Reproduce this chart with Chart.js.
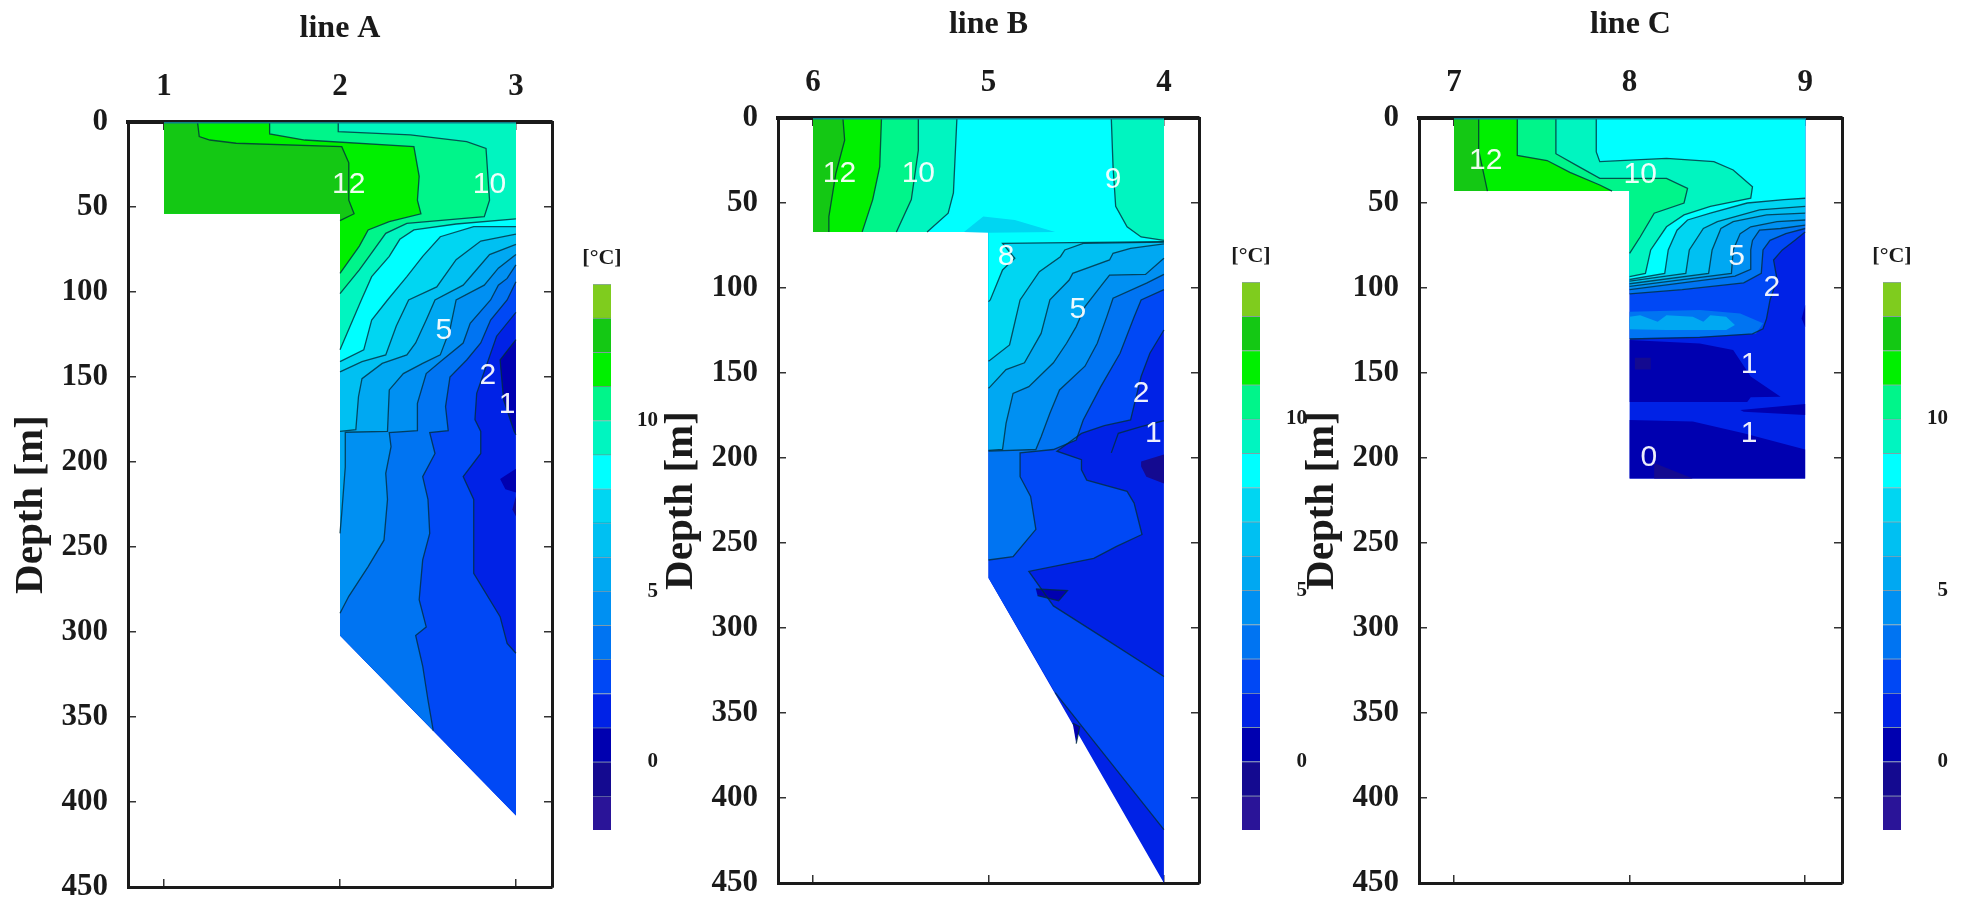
<!DOCTYPE html>
<html>
<head>
<meta charset="utf-8">
<title>Temperature sections</title>
<script src="https://cdn.jsdelivr.net/npm/chart.js@4"></script>
<style>
html, body { margin: 0; background: #fff; overflow: hidden; }
canvas { position: absolute; filter: blur(0.6px); }
</style>
</head>
<body>
<script>
// Tick labels
const stationsA = [1, 2, 3];
const stationsB = [6, 5, 4];
const stationsC = [7, 8, 9];
const depthTicks = [0, 50, 100, 150, 200, 250, 300, 350, 400, 450];
const colorTicks = [0, 5, 10];

// Colour scale: one colour for each 1 degree band, starting at bandLevels[0]
const bandLevels = [-2, -1, 0, 1, 2, 3, 4, 5, 6, 7, 8, 9, 10, 11, 12, 13];
const bandColors = ["#2a1498", "#140a90", "#0000b0", "#0022e6", "#0048f5", "#0074f2", "#0090f2", "#00a8f2",
    "#00c0f2", "#00d6f2", "#00ffff", "#00f5c0", "#00f58a", "#00f000", "#14c814", "#7fcc1e"];

// Isotherms, [station, depth in m]
// line A
const outlineA = [[1, 0], [3, 0], [3, 408], [2, 302], [2, 54], [1, 54]];
const a12 = [[1.19, 0], [1.2, 8.6], [1.26, 10.6], [1.41, 12.5], [2.01, 14.5], [2.05, 24], [2.05, 46], [2.08, 54], [2, 58]];
const a11 = [[1.6, 0], [1.6, 7], [1.8, 10.6], [2.42, 14.5], [2.45, 32], [2.44, 46], [2.46, 54], [2.28, 58.6], [2.16, 63.5], [2.11, 73], [2, 89]];
const a10 = [[1.99, 0], [1.99, 5.7], [2.4, 7.6], [2.72, 11.6], [2.83, 15.5], [2.85, 46], [2.82, 55.7], [2.38, 59.6], [2.26, 65.5], [2.18, 77], [2.11, 87], [2, 101]];
const a9 = [[3, 57], [2.66, 60], [2.42, 63.5], [2.34, 69], [2.28, 79], [2.18, 91], [2.12, 105], [2, 134]];
const a8 = [[3, 61.6], [2.76, 61.6], [2.57, 67.5], [2.47, 79], [2.38, 91], [2.27, 104.7], [2.18, 116.5], [2.135, 134], [2, 141]];
const a7 = [[3, 66], [2.8, 70], [2.66, 81], [2.55, 97], [2.39, 104.7], [2.32, 120], [2.26, 137], [2.125, 141], [2, 147]];
const a6 = [[3, 72], [2.85, 78], [2.75, 90], [2.7, 96], [2.54, 104.7], [2.49, 116.5], [2.43, 130], [2.38, 137], [2.24, 142], [2.125, 151], [2.105, 161.6], [2.09, 181], [2, 182]];
const a5 = [[3, 78], [2.9, 86], [2.82, 96], [2.66, 104.7], [2.625, 122], [2.57, 137], [2.47, 142], [2.36, 148], [2.28, 157.6], [2.27, 182], [2.03, 182.5], [2.03, 203], [2.01, 230], [2, 242]];
const a4 = [[3, 84], [2.95, 92], [2.9, 96], [2.856, 104.7], [2.74, 118.4], [2.7, 130], [2.57, 141], [2.49, 148], [2.44, 165.5], [2.44, 181.6], [2.28, 182.7], [2.29, 191], [2.26, 206.7], [2.27, 222], [2.25, 246], [2.16, 261.5], [2.05, 279], [2, 289]];
const a3 = [[3, 94], [2.95, 104.7], [2.856, 116.5], [2.8, 130], [2.72, 140], [2.625, 150], [2.6, 167.4], [2.615, 181.6], [2.51, 182.7], [2.54, 195], [2.47, 208.6], [2.5, 222], [2.51, 242], [2.47, 257.6], [2.45, 281], [2.49, 297], [2.43, 302], [2.47, 320], [2.5, 340], [2.53, 358]];
const a2 = [[3, 112], [2.89, 126], [2.777, 159.6], [2.767, 175], [2.8, 182], [2.8, 195], [2.7, 208.6], [2.76, 222], [2.76, 265.5], [2.91, 291], [2.95, 306.7], [3, 312.5]];
const a1 = [[3, 128], [2.91, 140], [2.93, 163.5], [2.99, 182], [3, 184]];
const a1Blob = [[3, 204], [2.94, 208], [2.91, 210], [2.94, 216], [3, 218]];
const a1Spot = [[3, 220], [2.98, 228], [3, 232]];
const labelsA = [["12", 2.05, 36.7], ["10", 2.85, 36.7], ["5", 2.59, 123], ["2", 2.84, 149], ["1", 2.95, 166.5]];

// line B
const outlineB = [[6, 0], [4, 0], [4, 450], [5, 270.6], [5, 67], [6, 67]];
const b12 = [[5.83, 0], [5.82, 13], [5.87, 32.5], [5.91, 58], [5.91, 67]];
const b11 = [[5.61, 0], [5.62, 28.6], [5.66, 48], [5.72, 67]];
const b10 = [[5.4, 0], [5.4, 19], [5.44, 48], [5.525, 67]];
const b9 = [[5.18, 0], [5.2, 44], [5.23, 56], [5.35, 67]];
const b9Right = [[4.3, 0], [4.29, 28.6], [4.275, 52], [4.21, 64], [4.13, 70], [4, 72]];
const b8 = [[4, 72.7], [4.92, 73.7], [4.85, 82.5], [4.92, 89.4], [4.99, 107], [5, 108]];
const b8Bump = [[5.14, 67], [5.03, 58], [4.85, 60], [4.62, 67], [5, 67.5]];
const b7 = [[4, 73], [4.46, 73.7], [4.565, 77.6], [4.59, 81.6], [4.71, 90.4], [4.82, 107], [4.86, 124.7], [4.88, 133.5], [4.99, 142.4], [5, 143]];
const b6 = [[4, 74], [4.19, 76.7], [4.29, 79.6], [4.31, 83.5], [4.52, 91.4], [4.54, 95.3], [4.65, 107], [4.7, 126.7], [4.795, 144], [4.9, 148], [4.99, 158], [5, 159]];
const b5 = [[4, 82.5], [4.105, 92], [4.31, 92.4], [4.345, 97], [4.45, 111], [4.5, 122.7], [4.555, 132.5], [4.63, 144], [4.77, 158], [4.86, 162], [4.9, 179.6], [4.92, 195], [5, 195.5]];
const b4 = [[4, 92], [4.096, 97], [4.29, 106], [4.326, 117], [4.38, 132.5], [4.45, 146], [4.595, 160], [4.65, 173.7], [4.7, 187.5], [4.73, 195], [5, 196]];
const b3 = [[4, 101], [4.13, 107], [4.17, 117], [4.25, 138.4], [4.36, 158], [4.46, 177.6], [4.5, 189.4], [4.63, 195], [4.82, 197], [4.82, 211], [4.76, 222.6], [4.73, 242], [4.86, 258], [5, 260]];
const b2 = [[4, 124.7], [4.08, 138.4], [4.13, 152], [4.19, 177.6], [4.34, 181], [4.47, 185.5], [4.61, 196], [4.47, 201], [4.47, 207], [4.44, 213], [4.21, 219.6], [4.17, 226.5], [4.125, 245], [4.27, 252], [4.4, 259], [4.77, 266.7], [4.63, 287], [4.31, 308], [4, 328.5]];
const b2Strip = [[4.62, 338], [4, 418.6]];
const b1 = [[4, 178], [4.13, 181.6], [4.26, 185.5], [4.3, 197]];
const b1Blob = [[4, 198], [4.13, 202], [4.13, 205], [4.1, 211], [4, 215]];
const b1Mark = [[4.73, 277], [4.55, 278], [4.6, 284], [4.72, 281]];
const b1Edge = [[4.52, 356], [4.48, 358], [4.5, 368]];
const labelsB = [["12", 5.85, 32.5], ["10", 5.4, 32.5], ["9", 4.29, 36.5], ["8", 4.9, 81.6], ["5", 4.49, 113], ["2", 4.13, 162], ["1", 4.06, 185.5]];

// line C
const outlineC = [[7, 0], [9, 0], [9, 212], [8, 212], [8, 43], [7, 43]];
const c12 = [[7.14, 0], [7.14, 19], [7.19, 43]];
const c11 = [[7.36, 0], [7.36, 22], [7.53, 25], [7.66, 32], [7.83, 39.4], [7.9, 43]];
const c10 = [[7.58, 0], [7.58, 21], [7.7, 28], [7.83, 35.5], [8.21, 35.5], [8.33, 41.4], [8.31, 50], [8.14, 56], [8.06, 70], [8, 79.6]];
const c9 = [[7.81, 0], [7.81, 20], [7.83, 25.7], [8.21, 23.7], [8.48, 25.7], [8.59, 30.6], [8.7, 40.4], [8.69, 47.2], [8.46, 52], [8.31, 57], [8.21, 64], [8.12, 77.6], [8.09, 91.4], [8, 93.3]];
const c8 = [[9, 47.2], [8.88, 48], [8.67, 50], [8.46, 56], [8.33, 60], [8.27, 66], [8.22, 77.6], [8.2, 91.4], [8, 95]];
const c7 = [[9, 52], [8.74, 54], [8.5, 61], [8.42, 65], [8.34, 77.6], [8.32, 91.4], [8, 96]];
const c6 = [[9, 56], [8.78, 57], [8.59, 61], [8.52, 65], [8.47, 77.6], [8.45, 91.4], [8, 97.5]];
const c5 = [[9, 60], [8.84, 61], [8.69, 64], [8.63, 68], [8.59, 77.6], [8.58, 91.4], [8, 99]];
const c4 = [[9, 63], [8.86, 65], [8.74, 66], [8.7, 72], [8.69, 77.6], [8.69, 89], [8.6, 93], [8.3, 97], [8, 101]];
const c3 = [[9, 65], [8.89, 68], [8.8, 72], [8.76, 77.6], [8.75, 91.4], [8.65, 97], [8.3, 101], [8, 103.5]];
const c2 = [[9, 67], [8.94, 72], [8.87, 77.6], [8.82, 83.5], [8.84, 95], [8.8, 107], [8.78, 118], [8.76, 124], [8.7, 127], [8.4, 129], [8, 130]];
const c3Shelf = [[8, 114], [8.4, 113], [8.63, 115], [8.76, 120.8], [8.72, 126.7], [8.4, 128.6], [8, 129.6]];
const c5Chevron = [[8, 116.9], [8.06, 116], [8.16, 119.8], [8.21, 116], [8.36, 116.9], [8.42, 119.8], [8.46, 116], [8.55, 116.9], [8.6, 121.8], [8.55, 124.7], [8.21, 124.7], [8, 124.3]];
const c1Upper = [[8, 130.6], [8.4, 132.6], [8.59, 136.5], [8.69, 152], [8.86, 164], [8.69, 164.3], [8.67, 167], [8, 167]];
const c1Lower = [[8, 177.7], [8.36, 178.6], [8.65, 185.5], [9, 195], [9, 212], [8, 212]];
const c1Strip = [[8.63, 171.8], [9, 168.2], [9, 174.7], [8.65, 172.8]];
const c1Edge = [[9, 110], [8.98, 118], [9, 123]];
const c0Blob = [[8.03, 141], [8.12, 141], [8.12, 148], [8.03, 148]];
const c0Floor = [[8.14, 203], [8.36, 212], [8.14, 212]];
const labelsC = [["12", 7.18, 25.3], ["10", 8.06, 33.5], ["5", 8.61, 81.6], ["2", 8.81, 100], ["1", 8.68, 145.3], ["1", 8.68, 185.5], ["0", 8.11, 200]];

const SERIF = "'Liberation Serif', serif";
const AXIS_COLOR = "#1a1a1a";
const CONTOUR_COLOR = "rgba(0, 45, 60, 0.8)";
const LEFT_GUTTER = 128;
const RIGHT_GUTTER = 24;
const TOP_GUTTER = 122;
const TITLE_HEIGHT = 45;
const PAGE_HEIGHT = 908;

const bandColor = (level) => bandColors[bandLevels.indexOf(level)];

// Closes an isotherm along the edge of the section so the warm side can be filled
const closed = (line, tail) => line.concat(tail);

const panels = [
    {
        title: "line A", stations: stationsA, labels: labelsA,
        plot: {left: 128, right: 552, top: 122, bottom: 887},
        range: [0.795, 3.205], reverse: false,
        top: [[1, 0], [3, 0]],
        fills: [
            [1, outlineA],
            [2, closed(a2, [[3, 408], [2, 302], [2, 54], [1, 54], [1, 0], [3, 0]])],
            [3, closed(a3, [[2, 302], [2, 54], [1, 54], [1, 0], [3, 0]])],
            [4, closed(a4, [[2, 54], [1, 54], [1, 0], [3, 0]])],
            [5, closed(a5, [[2, 54], [1, 54], [1, 0], [3, 0]])],
            [6, closed(a6, [[2, 54], [1, 54], [1, 0], [3, 0]])],
            [7, closed(a7, [[2, 54], [1, 54], [1, 0], [3, 0]])],
            [8, closed(a8, [[2, 54], [1, 54], [1, 0], [3, 0]])],
            [9, closed(a9, [[2, 54], [1, 54], [1, 0], [3, 0]])],
            [10, closed(a10, [[2, 54], [1, 54], [1, 0]])],
            [11, closed(a11, [[2, 54], [1, 54], [1, 0]])],
            [12, closed(a12, [[2, 54], [1, 54], [1, 0]])],
            [0, a1], [0, a1Blob], [-1, a1Spot],
        ],
        lines: [a12, a11, a10, a9, a8, a7, a6, a5, a4, a3, a2, a1],
    },
    {
        title: "line B", stations: stationsB, labels: labelsB,
        plot: {left: 778, right: 1199, top: 118, bottom: 883},
        range: [3.8, 6.2], reverse: true,
        top: [[6, 0], [4, 0]],
        fills: [
            [1, outlineB],
            [2, closed(b2.concat([...b2Strip].reverse()), [[5, 270.6], [5, 67], [6, 67], [6, 0], [4, 0]])],
            [3, closed(b3, [[5, 67], [6, 67], [6, 0], [4, 0]])],
            [4, closed(b4, [[5, 67], [6, 67], [6, 0], [4, 0]])],
            [5, closed(b5, [[5, 67], [6, 67], [6, 0], [4, 0]])],
            [6, closed(b6, [[5, 67], [6, 67], [6, 0], [4, 0]])],
            [7, closed(b7, [[5, 67], [6, 67], [6, 0], [4, 0]])],
            [8, closed(b8, [[5, 67], [6, 67], [6, 0], [4, 0]])],
            [7, b8Bump],
            [9, closed(b9, [[6, 67], [6, 0]])],
            [9, closed(b9Right, [[4, 0]])],
            [10, closed(b10, [[6, 67], [6, 0]])],
            [11, closed(b11, [[6, 67], [6, 0]])],
            [12, closed(b12, [[6, 67], [6, 0]])],
            [-1, b1Blob], [0, b1Mark], [0, b1Edge],
        ],
        lines: [b12, b11, b10, b9, b9Right, b8, b7, b6, b5, b4, b3, b2, b2Strip, b1, b1Mark, b1Edge],
    },
    {
        title: "line C", stations: stationsC, labels: labelsC,
        plot: {left: 1419, right: 1842, top: 118, bottom: 883},
        range: [6.8, 9.21], reverse: false,
        top: [[7, 0], [9, 0]],
        fills: [
            [1, outlineC],
            [2, closed(c2, [[8, 43], [7, 43], [7, 0], [9, 0]])],
            [3, closed(c3, [[8, 43], [7, 43], [7, 0], [9, 0]])],
            [4, closed(c4, [[8, 43], [7, 43], [7, 0], [9, 0]])],
            [5, closed(c5, [[8, 43], [7, 43], [7, 0], [9, 0]])],
            [6, closed(c6, [[8, 43], [7, 43], [7, 0], [9, 0]])],
            [7, closed(c7, [[8, 43], [7, 43], [7, 0], [9, 0]])],
            [8, closed(c8, [[8, 43], [7, 43], [7, 0], [9, 0]])],
            [9, closed(c9, [[8, 43], [7, 43], [7, 0]])],
            [10, closed(c10, [[8, 43], [7, 43], [7, 0]])],
            [11, closed(c11, [[7, 43], [7, 0]])],
            [12, closed(c12, [[7, 43], [7, 0]])],
            [3, c3Shelf], [5, c5Chevron],
            [0, c1Upper], [0, c1Lower], [0, c1Strip], [0, c1Edge],
            [-1, c0Blob], [-1, c0Floor],
        ],
        lines: [c12, c11, c10, c9, c8, c7, c6, c5, c4, c3, c2],
    },
];

const colorbars = [
    {left: 593, top: 284, bottom: 830},
    {left: 1242, top: 282, bottom: 830},
    {left: 1883, top: 282, bottom: 830},
];

const toPoints = (pairs) => pairs.map(([x, y]) => ({x: x, y: y}));

const addCanvas = (left, top, width, height) => {
    const canvas = document.createElement("canvas");
    canvas.width = width;
    canvas.height = height;
    canvas.style.left = left + "px";
    canvas.style.top = top + "px";
    canvas.style.width = width + "px";
    canvas.style.height = height + "px";
    document.body.appendChild(canvas);
    return canvas;
};

// The plot box is fixed, so labels at the ends of an axis must not shrink it
const dropScalePadding = (scale) => {
    scale.paddingTop = 0;
    scale.paddingBottom = 0;
    scale.paddingLeft = 0;
    scale.paddingRight = 0;
};

// White numbers written on the isotherms
const contourLabels = {
    id: "contourLabels",
    afterDatasetsDraw(chart, args, options) {
        const ctx = chart.ctx;
        ctx.save();
        ctx.font = "30px 'Liberation Sans', sans-serif";
        ctx.fillStyle = "rgba(255, 255, 255, 0.93)";
        ctx.textAlign = "center";
        ctx.textBaseline = "middle";
        options.items.forEach(([text, x, y]) => {
            ctx.fillText(text, chart.scales.x.getPixelForValue(x), chart.scales.y.getPixelForValue(y));
        });
        ctx.restore();
    },
};

const buildDatasets = (panel) => {
    const fills = panel.fills.map(([band, points]) => ({
        data: toPoints(points),
        showLine: true,
        fill: "shape",
        backgroundColor: bandColor(band),
        borderWidth: 0,
        pointRadius: 0,
        tension: 0,
    }));
    const lines = panel.lines.map((line) => ({
        data: toPoints(line),
        showLine: true,
        fill: false,
        borderColor: CONTOUR_COLOR,
        borderWidth: 1.3,
        pointRadius: 0,
        tension: 0,
    }));
    const topEdge = {
        data: toPoints(panel.top),
        showLine: true,
        fill: false,
        borderColor: "#0b7f8c",
        borderWidth: 3,
        pointRadius: 0,
    };
    // Chart.js paints the first dataset last, so turn the list round
    return fills.concat(lines, [topEdge]).reverse();
};

const stationAxis = (panel, position, showLabels, height) => ({
    type: "linear",
    position: position,
    reverse: panel.reverse,
    min: panel.range[0],
    max: panel.range[1],
    afterBuildTicks: (scale) => { scale.ticks = panel.stations.map((v) => ({value: v})); },
    afterFit: (scale) => { scale.height = height; dropScalePadding(scale); },
    border: {display: true, color: AXIS_COLOR, width: position === "top" ? 4 : 3},
    grid: {drawOnChartArea: false, tickLength: -8, color: "#333", lineWidth: 1.5},
    ticks: {
        display: showLabels, autoSkip: false, maxRotation: 0, padding: 24, color: AXIS_COLOR,
        font: {family: SERIF, size: 31, weight: "bold"},
    },
});

const depthAxis = (position, showLabels, width) => ({
    type: "linear",
    position: position,
    reverse: true,
    min: 0,
    max: 450,
    afterBuildTicks: (scale) => { scale.ticks = depthTicks.map((v) => ({value: v})); },
    afterFit: (scale) => { scale.width = width; dropScalePadding(scale); },
    border: {display: true, color: AXIS_COLOR, width: 3},
    grid: {drawOnChartArea: false, tickLength: -8, color: "#333", lineWidth: 1.5},
    title: {
        display: showLabels, text: "Depth [m]", color: AXIS_COLOR,
        font: {family: SERIF, size: 41, weight: "bold"}, padding: {top: 7, bottom: 0},
    },
    ticks: {
        display: showLabels, autoSkip: false, padding: 28, color: AXIS_COLOR,
        font: {family: SERIF, size: 31, weight: "bold"},
    },
});

const drawPanel = (panel) => {
    const plot = panel.plot;
    const width = LEFT_GUTTER + (plot.right - plot.left) + RIGHT_GUTTER;
    const canvas = addCanvas(plot.left - LEFT_GUTTER, plot.top - TOP_GUTTER, width, PAGE_HEIGHT);
    new Chart(canvas, {
        type: "scatter",
        data: {datasets: buildDatasets(panel)},
        plugins: [contourLabels],
        options: {
            responsive: false,
            animation: false,
            devicePixelRatio: 1,
            events: [],
            layout: {padding: 0, autoPadding: false},
            plugins: {
                legend: {display: false},
                tooltip: {enabled: false},
                contourLabels: {items: panel.labels},
                title: {
                    display: true, text: panel.title, color: AXIS_COLOR, fullSize: false,
                    font: {family: SERIF, size: 32, weight: "bold", lineHeight: 1},
                    padding: {top: 13, bottom: 0},
                },
            },
            scales: {
                x: stationAxis(panel, "top", true, TOP_GUTTER - TITLE_HEIGHT),
                xBottom: stationAxis(panel, "bottom", false, PAGE_HEIGHT - (plot.bottom - plot.top) - TOP_GUTTER),
                y: depthAxis("left", true, LEFT_GUTTER),
                yRight: depthAxis("right", false, RIGHT_GUTTER),
            },
        },
    });
};

const drawColorbar = (bar) => {
    const TITLE_SPACE = 39;
    const SIDE = 47;
    const BAR_WIDTH = 18;
    const canvas = addCanvas(bar.left - SIDE, bar.top - TITLE_SPACE, SIDE * 2 + BAR_WIDTH, bar.bottom - bar.top + TITLE_SPACE);
    new Chart(canvas, {
        type: "bar",
        data: {
            labels: [""],
            datasets: bandLevels.map((level, i) => ({
                data: [[level, level + 1]],
                backgroundColor: bandColors[i],
                borderColor: "rgba(0, 50, 70, 0.45)",
                borderWidth: {top: 1, bottom: 0, left: 0, right: 0},
                borderSkipped: false,
                grouped: false,
                barPercentage: 1,
                categoryPercentage: 1,
            })),
        },
        options: {
            responsive: false,
            animation: false,
            devicePixelRatio: 1,
            events: [],
            layout: {padding: 0, autoPadding: false},
            plugins: {
                legend: {display: false},
                tooltip: {enabled: false},
                title: {
                    display: true, text: "[°C]", color: AXIS_COLOR,
                    font: {family: SERIF, size: 22, weight: "bold", lineHeight: 1},
                    padding: {top: 2, bottom: 15},
                },
            },
            scales: {
                x: {display: false},
                // empty axis, it only keeps the bar centred under the title
                spacer: {
                    position: "left",
                    afterFit: (scale) => { scale.width = SIDE; dropScalePadding(scale); },
                    border: {display: false},
                    grid: {display: false, drawTicks: false, tickLength: 0},
                    ticks: {display: false},
                },
                y: {
                    position: "right",
                    min: -2,
                    max: 14,
                    afterBuildTicks: (scale) => { scale.ticks = colorTicks.map((v) => ({value: v})); },
                    afterFit: (scale) => { scale.width = SIDE; dropScalePadding(scale); },
                    border: {display: false},
                    grid: {display: false, drawTicks: false, tickLength: 0},
                    ticks: {
                        autoSkip: false, padding: 8, crossAlign: "far", color: AXIS_COLOR,
                        font: {family: SERIF, size: 21, weight: "bold"},
                    },
                },
            },
        },
    });
};

panels.forEach(drawPanel);
colorbars.forEach(drawColorbar);
</script>
</body>
</html>
